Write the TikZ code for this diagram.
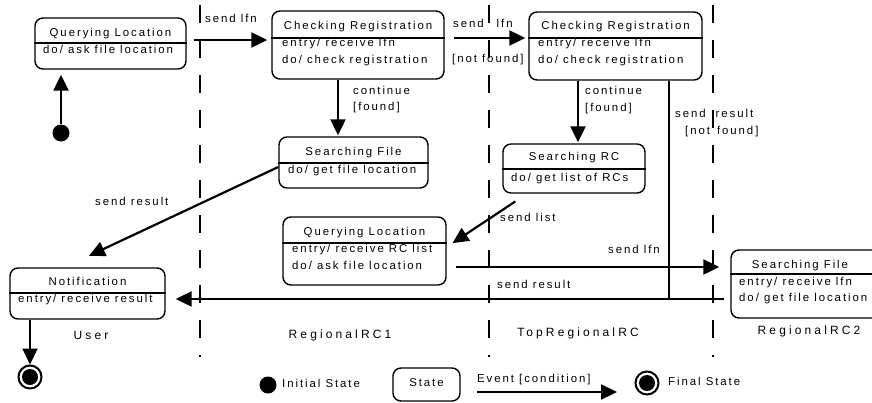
\documentclass[tikz,border=0pt]{standalone}
\usepackage{fontspec}
\setmainfont{Liberation Sans}
\newfontfamily\lblfont{Liberation Sans}[LetterSpace=17]
\newfontfamily\lanefont{Liberation Sans}[LetterSpace=26]
\usetikzlibrary{arrows.meta}
\tikzset{
 stbox/.style={draw, rounded corners=8pt, line width=1.4pt, inner sep=0pt},
 divline/.style={line width=1.3pt},
 txt/.style={inner sep=0pt, font=\lblfont\fontsize{11.4}{13}\selectfont, text height=8pt, text depth=2.5pt},
 ltxt/.style={txt, anchor=west},
 lanetxt/.style={inner sep=0pt, font=\lanefont\fontsize{12}{14}\selectfont},
 arr/.style={line width=2.2pt, -{Triangle[length=16pt,width=15pt]}},
 conn/.style={line width=2.2pt},
 lane/.style={line width=1.4pt, dash pattern=on 18pt off 17pt},
 initst/.style={circle, fill=black, inner sep=0pt, minimum size=17pt},
 finalst/.style={circle, draw, line width=2pt, minimum size=23pt, inner sep=0pt},
}
\begin{document}
\begin{tikzpicture}[x=1pt,y=-1pt]
\useasboundingbox (0,0) rectangle (872,402);
\clip (0,0) rectangle (872,402);
% lanes
\draw[lane] (200,5) -- (200,357);
\draw[lane] (489,5) -- (489,357);
\draw[lane] (713,5) -- (713,357);
% states
\node[initst] (init) at (61,133) {};
\node[stbox, minimum width=151pt, minimum height=51pt] (ql1) at (110.5,43.5) {};
\draw[divline] (ql1.west |- 0,43) -- (ql1.east |- 0,43);
\node[txt] at (110.5,34) {Querying Location};
\node[ltxt] at (43,51) {do/ ask file location};

\node[stbox, minimum width=172pt, minimum height=68pt] (cr1) at (358,45) {};
\draw[divline] (cr1.west |- 0,38) -- (cr1.east |- 0,38);
\node[txt] at (358,27) {Checking Registration};
\node[ltxt] at (282,44) {entry/ receive lfn};
\node[ltxt] at (282,61) {do/ check registration};

\node[stbox, minimum width=173pt, minimum height=68pt] (cr2) at (615.5,46) {};
\draw[divline] (cr2.west |- 0,38) -- (cr2.east |- 0,38);
\node[txt] at (615.5,27) {Checking Registration};
\node[ltxt] at (538,44) {entry/ receive lfn};
\node[ltxt] at (538,61) {do/ check registration};

\node[stbox, minimum width=149pt, minimum height=51pt] (sf1) at (353.5,162.5) {};
\draw[divline] (sf1.west |- 0,163) -- (sf1.east |- 0,163);
\node[txt] at (353.5,153) {Searching File};
\node[ltxt] at (288,171) {do/ get file location};

\node[stbox, minimum width=142pt, minimum height=49pt] (src) at (574,168.5) {};
\draw[divline] (src.west |- 0,169) -- (src.east |- 0,169);
\node[txt] at (574,158) {Searching RC};
\node[ltxt] at (511,179) {do/ get list of RCs};

\node[stbox, minimum width=163pt, minimum height=68pt] (ql2) at (364.5,251) {};
\draw[divline] (ql2.west |- 0,243) -- (ql2.east |- 0,243);
\node[txt] at (364.5,233) {Querying Location};
\node[ltxt] at (292,250) {entry/ receive RC list};
\node[ltxt] at (292,267) {do/ ask file location};

\node[stbox, minimum width=154pt, minimum height=68pt] (sf2) at (808,284) {};
\draw[divline] (sf2.west |- 0,274) -- (sf2.east |- 0,274);
\node[txt] at (800,266) {Searching File};
\node[ltxt] at (739,283) {entry/ receive lfn};
\node[ltxt] at (739,299) {do/ get file location};

\node[stbox, minimum width=155pt, minimum height=51pt] (notif) at (87.5,293.5) {};
\draw[divline] (notif.west |- 0,293) -- (notif.east |- 0,293);
\node[txt] at (87.5,283) {Notification};
\node[ltxt] at (18,300) {entry/ receive result};

\node[finalst] (fin) at (30,377) {};
\fill (fin.center) circle (8pt);

% lane labels
\node[lanetxt] at (91,335) {User};
\node[lanetxt] at (340,335) {RegionalRC1};
\node[lanetxt] at (578,333) {TopRegionalRC};
\node[lanetxt] at (809,331) {RegionalRC2};

% connectors
\draw[arr, shorten >=5pt] (init) -- (init |- ql1.south);
\draw[arr, shorten <=7pt, shorten >=4pt] (ql1.east |- 0,40) -- (cr1.west |- 0,40);
\draw[arr, shorten <=9pt, shorten >=3pt] (cr1.east |- 0,38) -- (cr2.west |- 0,38);
\draw[arr, shorten >=1pt] (cr1.south -| 338,0) -- (sf1.north -| 338,0);
\draw[arr, shorten >=1pt] (cr2.south -| 578,0) -- (src.north -| 578,0);
\coordinate (join) at (669,299);
\draw[conn] (cr2.south -| join) -- (join);
\draw[arr, shorten >=27pt] (sf1.west |- 0,167) -- (notif.north -| 64.5,0);
\draw[arr, shorten <=14pt, shorten >=7pt] (src.south -| 527,0) -- (ql2.east |- 0,247);
\draw[arr, shorten <=9pt, shorten >=11pt] (ql2.east |- 0,267) -- (sf2.west |- 0,267);
\draw[arr, shorten <=6pt, shorten >=10pt] (sf2.west |- 0,299) -- (notif.east |- 0,299);
\draw[arr] (notif.south -| fin) -- (fin.north);

% connector labels
\node[ltxt] at (205,20) {send lfn};
\node[ltxt] at (453,25) {send\hspace{13pt}lfn};
\node[ltxt] at (452,60) {[not found]};
\node[ltxt] at (353,92) {continue};
\node[ltxt] at (353,108) {[found]};
\node[ltxt] at (585,92) {continue};
\node[ltxt] at (585,109) {[found]};
\node[ltxt] at (675,115) {send\hspace{10pt}result};
\node[ltxt] at (685,132) {[not\hspace{7pt}found]};
\node[ltxt] at (95,203) {send result};
\node[ltxt] at (500,219) {send list};
\node[ltxt] at (608,251) {send lfn};
\node[ltxt] at (497,286) {send result};

% legend
\node[initst] (lginit) at (268,385) {};
\node[ltxt] at (282,385) {Initial State};
\node[stbox, minimum width=67pt, minimum height=33pt] (lgstate) at (426.5,384.5) {};
\node[txt] at (426.5,384) {State};
\coordinate (ev1) at (477,392);
\coordinate (ev2) at (617,392);
\draw[arr] (ev1) -- (ev2);
\node[ltxt] at (477,380) {Event [condition]};
\node[finalst] (lgfin) at (647,383) {};
\fill (lgfin.center) circle (8pt);
\node[ltxt] at (668,383) {Final State};
\end{tikzpicture}
\end{document}
